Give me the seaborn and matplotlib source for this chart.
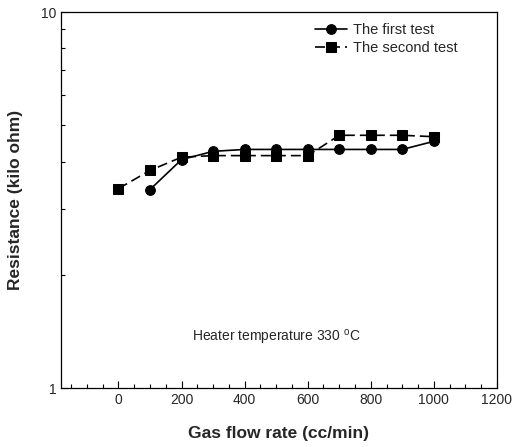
import numpy as np
import pandas as pd
import matplotlib
matplotlib.use('Agg')
import matplotlib.pyplot as plt
import seaborn as sns
from matplotlib.ticker import LogLocator, NullFormatter, FixedLocator, MultipleLocator

# ==================== data ====================
flow_first = [100, 200, 300, 400, 500, 600, 700, 800, 900, 1000]
res_first = [3.37, 4.05, 4.26, 4.31, 4.31, 4.31, 4.31, 4.31, 4.31, 4.53]

flow_second = [0, 100, 200, 300, 400, 500, 600, 700, 800, 900, 1000]
res_second = [3.39, 3.79, 4.11, 4.15, 4.15, 4.15, 4.15, 4.70, 4.70, 4.70, 4.66]

df1 = pd.DataFrame({'flow': flow_first, 'res': res_first})
df2 = pd.DataFrame({'flow': flow_second, 'res': res_second})

sns.set_style('ticks')
plt.rcParams['font.family'] = ['Liberation Sans', 'DejaVu Sans']

fig = plt.figure(figsize=(5.22, 4.47), dpi=100)
ax = fig.add_axes([61 / 522, 1 - 388 / 447, (497 - 61) / 522, (388 - 12) / 447])

sns.lineplot(data=df1, x='flow', y='res', ax=ax, color='black', marker='o',
             markersize=7, linewidth=1.2, markeredgecolor='black', label='The first test')
sns.lineplot(data=df2, x='flow', y='res', ax=ax, color='black', marker='s',
             markersize=6.5, linewidth=1.2, markeredgecolor='black', label='The second test')
ax.lines[1].set_dashes([6, 3])

ax.set_yscale('log')
ax.set_ylim(1, 10)
ax.set_xlim(-182, 1200)
ax.set_xticks([0, 200, 400, 600, 800, 1000, 1200])
ax.xaxis.set_minor_locator(MultipleLocator(50))
ax.yaxis.set_major_locator(FixedLocator([1, 10]))
ax.yaxis.set_major_formatter(matplotlib.ticker.FixedFormatter(['1', '10']))
ax.yaxis.set_minor_locator(LogLocator(base=10, subs=np.arange(2, 10)))
ax.yaxis.set_minor_formatter(NullFormatter())

ax.tick_params(which='both', direction='in', top=False, right=False,
               labelsize=10, width=0.8, color='black')
ax.tick_params(which='major', length=5)
ax.tick_params(which='minor', length=3)
for sp in ax.spines.values():
    sp.set_linewidth(0.9)
    sp.set_color('black')

ax.set_xlabel('Gas flow rate (cc/min)', fontsize=12.5, fontweight='bold', labelpad=14)
ax.set_ylabel('Resistance (kilo ohm)', fontsize=12.5, fontweight='bold', labelpad=13)

ax.text(0.30, 0.133, r'Heater temperature 330 $^{\mathregular{o}}$C', transform=ax.transAxes,
        fontsize=10, ha='left', va='center')

leg = ax.legend(loc='upper right', bbox_to_anchor=(0.94, 1.005), frameon=False,
                fontsize=10.5, handlelength=2.2, handletextpad=0.4, labelspacing=0.25)

fig.savefig('out.png', dpi=100)
